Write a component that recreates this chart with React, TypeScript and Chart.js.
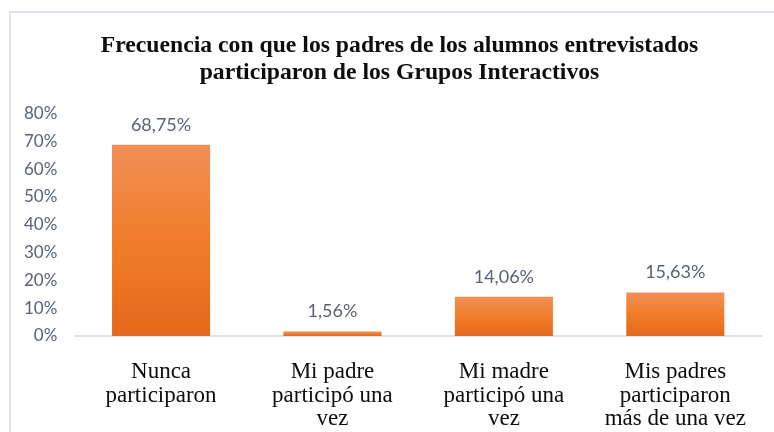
import React, { useEffect, useRef } from "react";
import { Chart, registerables } from "chart.js";

Chart.register(...registerables);

const titleLines = [
  "Frecuencia con que los padres de los alumnos entrevistados",
  "participaron de los Grupos Interactivos",
];
const categories = [
  ["Nunca", "participaron"],
  ["Mi padre", "participó una", "vez"],
  ["Mi madre", "participó una", "vez"],
  ["Mis padres", "participaron", "más de una vez"],
];
const values = [68.75, 1.56, 14.06, 15.63];
const yMax = 80;
const yStep = 10;

const labelColor = "#5A6272";

const dataLabelPlugin = {
  id: "dataLabels",
  afterDatasetsDraw(chart: any) {
    const ctx = chart.ctx;
    const meta = chart.getDatasetMeta(0);
    ctx.save();
    ctx.font = "18px Lato";
    ctx.fillStyle = labelColor;
    ctx.textAlign = "center";
    ctx.textBaseline = "middle";
    meta.data.forEach((bar: any, i: number) => {
      const v = values[i];
      const txt = v.toFixed(2).replace(".", ",") + "%";
      ctx.fillText(txt, bar.x, bar.y - 20);
    });
    ctx.restore();
  },
};

const titleShiftPlugin = {
  id: "titleShift",
  afterLayout(chart: any) {
    const t = chart.titleBlock;
    if (t) {
      t.left += 16;
      t.right += 16;
    }
  },
};

export default function App() {
  const canvasRef = useRef<HTMLCanvasElement | null>(null);

  useEffect(() => {
    const canvas = canvasRef.current;
    if (!canvas) return;
    const chart = new Chart(canvas, {
      type: "bar",
      data: {
        labels: categories,
        datasets: [
          {
            data: values,
            backgroundColor: (c: any) => {
              const ch = c.chart;
              if (!ch.chartArea || c.parsed == null) return "#F07F2C";
              const ys = ch.scales.y;
              const top = ys.getPixelForValue(c.parsed.y);
              const bottom = ys.getPixelForValue(0);
              const g = ch.ctx.createLinearGradient(0, top, 0, bottom + 0.01);
              g.addColorStop(0, "#F08F57");
              g.addColorStop(0.5, "#F07D2A");
              g.addColorStop(1, "#E4691A");
              return g;
            },
            borderWidth: 0,
            barPercentage: 0.572,
            categoryPercentage: 1,
          },
        ],
      },
      options: {
        animation: false,
        responsive: false,
        maintainAspectRatio: false,
        layout: { padding: { left: 6, right: 13, top: 0, bottom: 0 } },
        plugins: {
          legend: { display: false },
          tooltip: { enabled: false },
          title: {
            display: true,
            text: titleLines,
            color: "#0D0D0D",
            font: { family: "Liberation Serif", size: 23.7, weight: "bold", lineHeight: 1.15 },
            padding: { top: 32, bottom: 27 },
          },
        },
        scales: {
          x: {
            grid: { display: false, drawTicks: false },
            border: { display: true, color: "#DDE2E9", width: 2 },
            ticks: {
              color: "#0D0D0D",
              font: { family: "Liberation Serif", size: 23, lineHeight: 1.03 },
              padding: 24,
              maxRotation: 0,
              autoSkip: false,
            },
          },
          y: {
            min: 0,
            max: yMax,
            grid: { display: false, drawTicks: false },
            border: { display: false },
            ticks: {
              stepSize: yStep,
              color: labelColor,
              font: { family: "Lato", size: 17 },
              padding: 18,
              callback: (v: any) => v + "%",
            },
          },
        },
      },
      plugins: [dataLabelPlugin, titleShiftPlugin],
    });
    return () => chart.destroy();
  }, []);

  return (
    <div style={{ position: "fixed", left: 0, top: 0, width: 774, height: 432, overflow: "hidden", background: "#fff" }}>
      <div
        style={{
          position: "absolute",
          left: 9,
          top: 11,
          width: 900,
          height: 600,
          borderLeft: "2px solid #DEE3EA",
          borderTop: "2px solid #DEE3EA",
        }}
      />
      <canvas ref={canvasRef} width={774} height={455} style={{ position: "absolute", left: 0, top: 0 }} />
    </div>
  );
}
